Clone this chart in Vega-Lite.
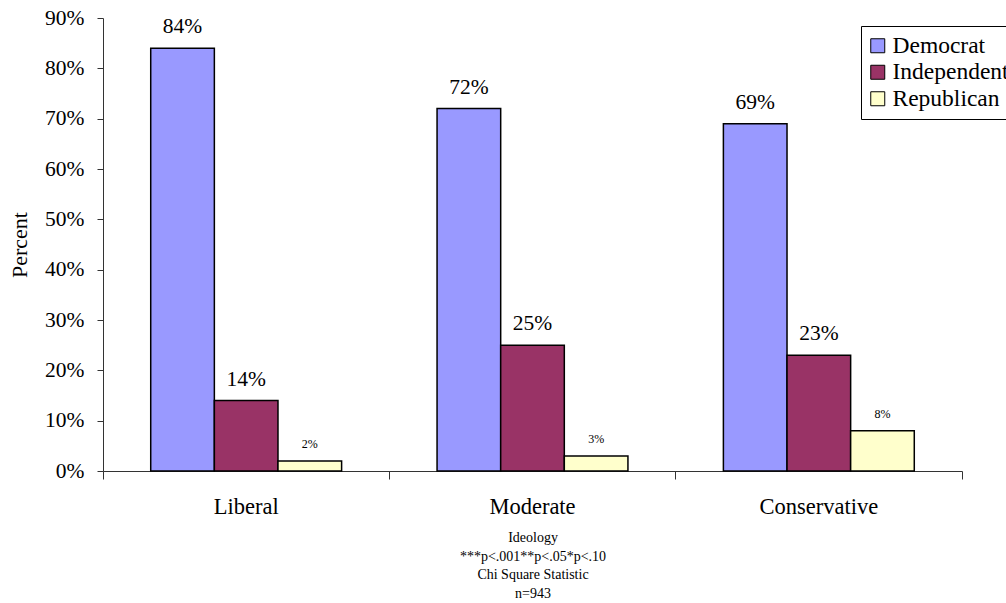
{
  "$schema": "https://vega.github.io/schema/vega-lite/v6.json",
  "width": 859,
  "height": 453,
  "autosize": {"type": "none"},
  "padding": {"left": 103, "top": 18, "right": 44, "bottom": 132},
  "background": "white",
  "config": {
    "font": "Liberation Serif",
    "view": {"stroke": null},
    "text": {"font": "Liberation Serif"},
    "legend": {"labelFont": "Liberation Serif", "titleFont": "Liberation Serif"},
    "axis": {"grid": false, "labelFont": "Liberation Serif", "titleFont": "Liberation Serif", "labelColor": "black", "titleColor": "black", "titleFontWeight": "normal", "domainColor": "#333333", "tickColor": "#333333", "domainWidth": 1, "tickWidth": 1}
  },
  "data": {
    "values": [
      {"ideology": "Liberal", "party": "Democrat", "pct": 0.84},
      {"ideology": "Liberal", "party": "Independent", "pct": 0.14},
      {"ideology": "Liberal", "party": "Republican", "pct": 0.02},
      {"ideology": "Moderate", "party": "Democrat", "pct": 0.72},
      {"ideology": "Moderate", "party": "Independent", "pct": 0.25},
      {"ideology": "Moderate", "party": "Republican", "pct": 0.03},
      {"ideology": "Conservative", "party": "Democrat", "pct": 0.69},
      {"ideology": "Conservative", "party": "Independent", "pct": 0.23},
      {"ideology": "Conservative", "party": "Republican", "pct": 0.08}
    ]
  },
  "encoding": {
    "x": {
      "field": "ideology",
      "type": "nominal",
      "sort": ["Liberal", "Moderate", "Conservative"],
      "scale": {"paddingInner": 0, "paddingOuter": 0},
      "axis": {
        "title": ["Ideology", "***p<.001**p<.05*p<.10", "Chi Square Statistic", "n=943"],
        "labelAngle": 0,
        "bandPosition": 1,
        "tickExtra": true,
        "tickSize": 8,
        "labelPadding": 16,
        "labelFontSize": 22.5,
        "titleFontSize": 14,
        "titleLineHeight": 18.7,
        "titlePadding": 13
      }
    },
    "xOffset": {
      "field": "party",
      "sort": ["Democrat", "Independent", "Republican"],
      "scale": {"paddingInner": 0, "paddingOuter": 0.75}
    },
    "y": {
      "field": "pct",
      "type": "quantitative",
      "scale": {"domain": [0, 0.9], "nice": false},
      "axis": {
        "title": "Percent",
        "values": [0, 0.1, 0.2, 0.3, 0.4, 0.5, 0.6, 0.7, 0.8, 0.9],
        "format": ".0%",
        "tickSize": 6,
        "labelPadding": 13,
        "labelFontSize": 21.5,
        "titleFontSize": 22,
        "titlePadding": 13
      }
    }
  },
  "layer": [
    {
      "mark": {"type": "bar", "stroke": "black", "strokeWidth": 1.5},
      "encoding": {
        "color": {
          "field": "party",
          "type": "nominal",
          "scale": {"domain": ["Democrat", "Independent", "Republican"], "range": ["#9999FF", "#993366", "#FFFFCC"]},
          "legend": {
            "title": null,
            "orient": "none",
            "legendX": 758,
            "legendY": 8,
            "symbolType": "square",
            "symbolSize": 196,
            "symbolOffset": -3,
            "symbolStrokeColor": "black",
            "symbolStrokeWidth": 1,
            "symbolOpacity": 1,
            "labelFont": "Liberation Serif",
            "labelFontSize": 23.5,
            "labelColor": "black",
            "labelOffset": 3,
            "labelLimit": 300,
            "rowPadding": 1.5,
            "padding": 8,
            "strokeColor": "black",
            "fillColor": "white"
          }
        }
      }
    },
    {
      "transform": [{"filter": "datum.party !== 'Republican'"}],
      "mark": {"type": "text", "dy": -21, "fontSize": 21.5, "baseline": "middle", "color": "black", "font": "Liberation Serif"},
      "encoding": {"text": {"field": "pct", "type": "quantitative", "format": ".0%"}}
    },
    {
      "transform": [{"filter": "datum.party === 'Republican'"}],
      "mark": {"type": "text", "dy": -17, "fontSize": 12, "baseline": "middle", "color": "black", "font": "Liberation Serif"},
      "encoding": {"text": {"field": "pct", "type": "quantitative", "format": ".0%"}}
    }
  ]
}
